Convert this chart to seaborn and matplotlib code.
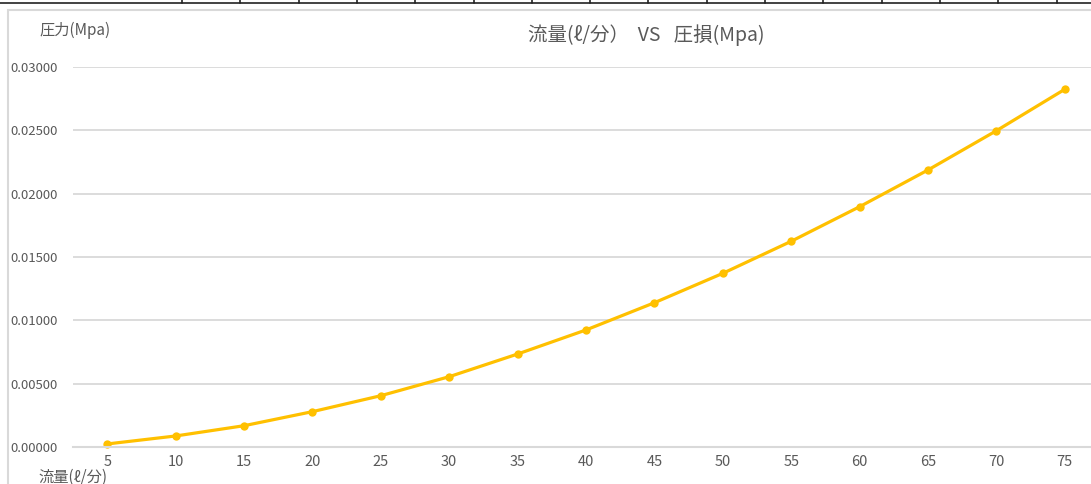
import matplotlib
matplotlib.use('Agg')
import matplotlib.pyplot as plt
import matplotlib.lines as mlines
import matplotlib.patches as mpatches
import numpy as np
import pandas as pd
import seaborn as sns

# Data
flow = [5, 10, 15, 20, 25, 30, 35, 40, 45, 50, 55, 60, 65, 70, 75]
pressure_loss = [0.00024, 0.00087, 0.00168, 0.00279, 0.00405, 0.00555, 0.00734,
                 0.00924, 0.01139, 0.01371, 0.01624, 0.01897, 0.02187, 0.02497, 0.02824]
y_ticks = [0.0, 0.005, 0.01, 0.015, 0.02, 0.025, 0.03]

df = pd.DataFrame({'flow': flow, 'loss': pressure_loss})

sns.set_theme(style='white')
plt.rcParams['font.family'] = ['Noto Sans CJK JP', 'DejaVu Sans']

text_gray = '#595959'
grid_gray = '#D9D9D9'
gold = '#FFC000'

W, H = 1091, 484
fig = plt.figure(figsize=(W / 100, H / 100), dpi=100)
# plot area runs a little past the right edge, as in the cropped reference
ax = fig.add_axes([73 / W, 1 - 447 / H, (1099 - 73) / W, (447 - 67) / H])

# Chart frame (light border) and spreadsheet edge at the very top
fig.add_artist(mpatches.Rectangle((8 / W, -0.1), 1.2, 1 - 10 / H + 0.1,
                                  transform=fig.transFigure, fill=False,
                                  edgecolor=grid_gray, linewidth=1.5))
fig.add_artist(mlines.Line2D([0, 1], [1 - 3 / H, 1 - 3 / H],
                             transform=fig.transFigure, color='#222222', linewidth=1.2))
for tx in np.arange(182, W, 58.3):
    fig.add_artist(mlines.Line2D([tx / W, tx / W], [1 - 3 / H, 1],
                                 transform=fig.transFigure, color='#222222', linewidth=1.2))

sns.lineplot(data=df, x='flow', y='loss', ax=ax, color=gold, linewidth=2.3,
             marker='o', markersize=6, markeredgewidth=0, clip_on=False)

ax.set_xlim(2.5, 77.5)
ax.set_ylim(0, 0.03)
ax.set_xticks(flow)
ax.set_xticklabels([str(v) for v in flow])
ax.set_yticks(y_ticks)
ax.set_yticklabels([f'{v:.5f}' for v in y_ticks])
ax.yaxis.grid(True, color=grid_gray, linewidth=1.3)
ax.set_axisbelow(True)
for side in ['top', 'right', 'left']:
    ax.spines[side].set_visible(False)
ax.spines['bottom'].set_color(grid_gray)
ax.spines['bottom'].set_linewidth(1.5)
ax.tick_params(axis='both', length=0, colors=text_gray)
ax.tick_params(axis='y', labelsize=9.5, pad=11)
ax.tick_params(axis='x', labelsize=10.5, pad=6)
ax.set_xlabel('')
ax.set_ylabel('')

fig.text(646 / W, 1 - 35 / H, '流量(ℓ/分）  VS   圧損(Mpa)', ha='center', va='center',
         fontsize=14, color=text_gray)
fig.text(39 / W, 1 - 30 / H, '圧力(Mpa)', ha='left', va='center',
         fontsize=11, color=text_gray)
fig.text(38 / W, 1 - 477 / H, '流量(ℓ/分)', ha='left', va='center',
         fontsize=11, color=text_gray)

fig.savefig('out.png', dpi=100)
